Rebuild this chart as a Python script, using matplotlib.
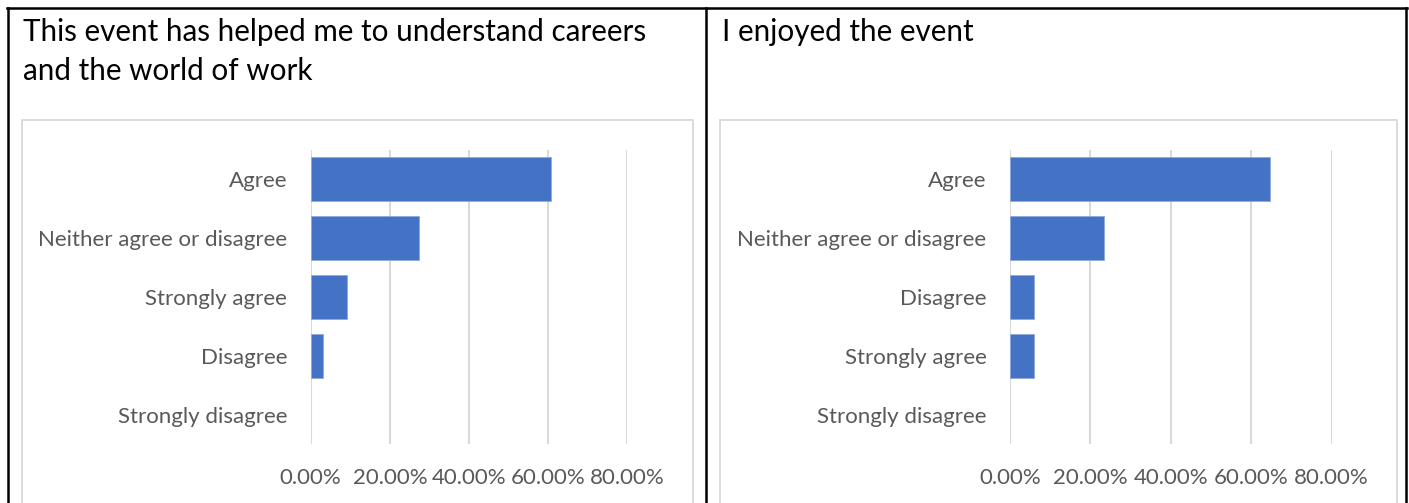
import matplotlib
matplotlib.use("Agg")
import matplotlib.pyplot as plt
from matplotlib.lines import Line2D
from matplotlib.patches import Rectangle
from matplotlib.ticker import PercentFormatter

plt.rcParams['font.family'] = ['Lato', 'DejaVu Sans']

# --- data ---
left_title = ["This event has helped me to understand careers", "and the world of work"]
left_cats = ["Agree", "Neither agree or disagree", "Strongly agree", "Disagree", "Strongly disagree"]
left_vals = [60.6, 27.3, 9.1, 3.0, 0.0]

right_title = ["I enjoyed the event"]
right_cats = ["Agree", "Neither agree or disagree", "Disagree", "Strongly agree", "Strongly disagree"]
right_vals = [64.7, 23.5, 5.9, 5.9, 0.0]

x_ticks = [0, 20, 40, 60, 80]

W, H = 1409, 503
fig = plt.figure(figsize=(W / 100, H / 100), dpi=100)
fig.patch.set_facecolor('white')

BAR = '#4472C4'
GRID = '#D9D9D9'
TXT = '#595959'


def px(x, y):
    # pixel (from top-left) -> figure fraction
    return x / W, 1 - y / H


def draw_panel(title_lines, title_x, frame, ax_box, cats, vals):
    # title lines, one per baseline
    for i, line in enumerate(title_lines):
        fx, fy = px(title_x, 40.5 + 39.5 * i)
        fig.text(fx, fy, line, fontsize=21.3, color='black', va='baseline', ha='left')

    # light chart frame
    x0, y0, x1 = frame
    fig.patches.append(Rectangle(px(x0, H + 5), (x1 - x0) / W, (H + 5 - y0) / H,
                                 transform=fig.transFigure, fill=False,
                                 edgecolor=GRID, linewidth=1.3))

    l, t, r, b = ax_box
    ax = fig.add_axes([l / W, 1 - b / H, (r - l) / W, (b - t) / H])
    y = list(range(len(cats)))
    ax.barh(y, vals, height=0.75, color=BAR, edgecolor='#8FAADC',
            linewidth=[0.6 if v > 0 else 0 for v in vals], zorder=3)
    ax.set_ylim(len(cats) - 0.5, -0.5)
    ax.set_xlim(0, 80)
    ax.set_xticks(x_ticks)
    ax.xaxis.set_major_formatter(PercentFormatter(decimals=2))
    ax.set_yticks(y)
    ax.set_yticklabels(cats)
    ax.grid(axis='x', color=GRID, linewidth=1.5, zorder=0)
    for s in ax.spines.values():
        s.set_visible(False)
    ax.tick_params(axis='both', length=0, colors=TXT, labelsize=16)
    ax.tick_params(axis='y', pad=17)
    ax.tick_params(axis='x', pad=17)
    ax.set_facecolor('none')
    return ax


draw_panel(left_title, 23, (21.5, 119.5, 692.5), (310.7, 150, 627.3, 444), left_cats, left_vals)
draw_panel(right_title, 722, (720.5, 119.5, 1396.5), (1010, 150, 1331.7, 444), right_cats, right_vals)

# table borders
for xs, ys in [((7, 1407), (8, 8)), ((7.5, 7.5), (8, H + 5)),
               ((706.5, 706.5), (8, H + 5)), ((1406, 1406), (8, H + 5))]:
    fig.lines.append(Line2D([x / W for x in xs], [1 - y / H for y in ys],
                            transform=fig.transFigure, color='black', linewidth=1.8))

fig.savefig('out.png', dpi=100)
